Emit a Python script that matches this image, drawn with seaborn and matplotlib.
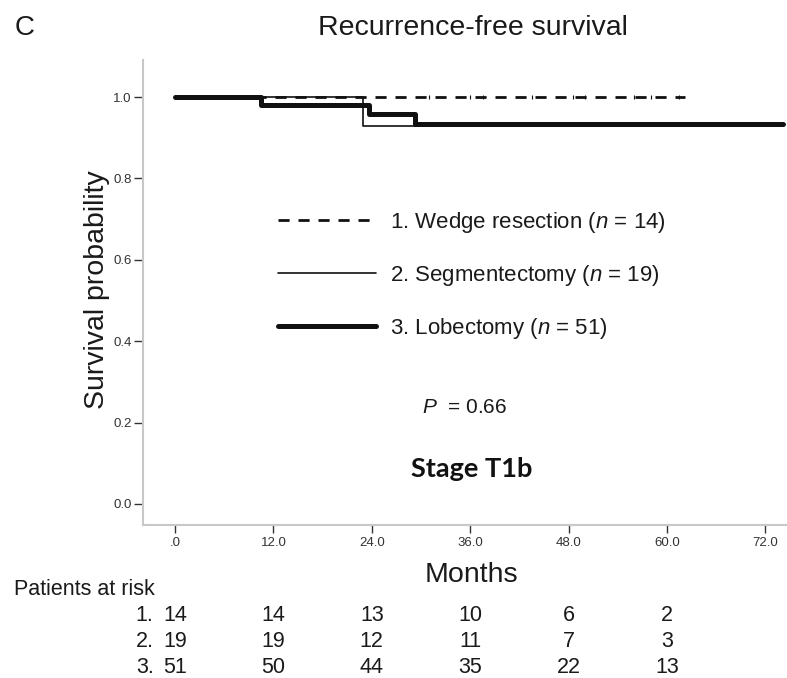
import numpy as np
import pandas as pd
import matplotlib
matplotlib.use("Agg")
import matplotlib.pyplot as plt
import matplotlib.transforms as mtransforms
from matplotlib.lines import Line2D
import seaborn as sns

# Kaplan-Meier step curves (months, survival probability)
wedge_t = [0.0, 62.2]
wedge_s = [1.0, 1.0]
seg_t = [0.0, 22.9, 70.8]
seg_s = [1.0, 0.929, 0.929]
lob_t = [0.0, 10.5, 23.6, 29.3, 74.2]
lob_s = [1.0, 0.980, 0.958, 0.934, 0.934]

# censored observations
wedge_cens = [31.0, 36.0, 37.5, 43.5, 48.5, 50.0, 56.0, 58.0, 61.5]
lob_cens = [34.8, 38.7, 41.6, 50.6, 55.7, 56.9, 67.8]

groups = ["1. Wedge resection ($n$ = 14)",
          "2. Segmentectomy ($n$ = 19)",
          "3. Lobectomy ($n$ = 51)"]

# number at risk
risk_months = [0, 12, 24, 36, 48, 60]
risk_wedge = [14, 14, 13, 10, 6, 2]
risk_seg = [19, 19, 12, 11, 7, 3]
risk_lob = [51, 50, 44, 35, 22, 13]

x_ticks = [0, 12, 24, 36, 48, 60, 72]
x_ticklabels = [".0", "12.0", "24.0", "36.0", "48.0", "60.0", "72.0"]
y_ticks = [0.0, 0.2, 0.4, 0.6, 0.8, 1.0]
y_ticklabels = ["0.0", "0.2", "0.4", "0.6", "0.8", "1.0"]

sns.set_theme(style="white")
plt.rcParams["font.family"] = ["Liberation Sans", "DejaVu Sans"]
plt.rcParams["mathtext.fontset"] = "custom"
plt.rcParams["mathtext.it"] = "Liberation Sans:italic"
plt.rcParams["mathtext.rm"] = "Liberation Sans"

W, H = 787, 678
fig = plt.figure(figsize=(W / 100, H / 100), dpi=100)
ax = fig.add_axes([143 / W, 1 - 525 / H, (786 - 143) / W, (525 - 60) / H])

ink = "#111111"
styles = {
    groups[0]: dict(lw=2.0, ls=(0, (4.0, 3.2))),
    groups[1]: dict(lw=1.2, ls="-"),
    groups[2]: dict(lw=3.6, ls="-"),
}

curves = pd.concat([
    pd.DataFrame({"month": lob_t, "surv": lob_s, "group": groups[2]}),
    pd.DataFrame({"month": seg_t, "surv": seg_s, "group": groups[1]}),
    pd.DataFrame({"month": wedge_t, "surv": wedge_s, "group": groups[0]}),
])

for g, d in curves.groupby("group", sort=False):
    st = styles[g]
    sns.lineplot(data=d, x="month", y="surv", ax=ax, color=ink,
                 linewidth=st["lw"], linestyle=st["ls"],
                 drawstyle="steps-post", estimator=None, sort=False,
                 legend=False)

def level_at(t_list, s_list, t):
    idx = np.searchsorted(t_list, t, side="right") - 1
    return s_list[idx]

cens = pd.DataFrame({
    "month": wedge_cens + lob_cens,
    "surv": [level_at(wedge_t, wedge_s, t) for t in wedge_cens]
            + [level_at(lob_t, lob_s, t) for t in lob_cens],
})
sns.scatterplot(data=cens, x="month", y="surv", ax=ax, marker="|",
                s=12, color=ink, linewidth=0.8, legend=False)

ax.set_xlim(-(175 - 143) / 8.2, (786 - 175) / 8.2)
ax.set_ylim(-(525 - 504) / 407, 1 + (97 - 60) / 407)
ax.set_xticks(x_ticks)
ax.set_xticklabels(x_ticklabels)
ax.set_yticks(y_ticks)
ax.set_yticklabels(y_ticklabels)
ax.set_xlabel("")
ax.set_ylabel("")

for side in ["top", "right"]:
    ax.spines[side].set_visible(False)
for side in ["left", "bottom"]:
    ax.spines[side].set_color("#c8c8c8")
    ax.spines[side].set_linewidth(1.5)

ax.tick_params(axis="x", direction="out", length=5.5, width=1.0, color="#333333",
               pad=3, labelsize=9.5, labelcolor="#333333", bottom=True)
ax.tick_params(axis="y", direction="out", length=6.5, width=1.0, color="#333333",
               pad=1.5, labelsize=9.5, labelcolor="#333333", left=True)

# legend
handles = [Line2D([], [], color=ink, linewidth=styles[g]["lw"],
                  linestyle=styles[g]["ls"]) for g in groups]
leg = ax.legend(handles, groups, loc="upper left",
                bbox_to_anchor=(278 / W, 1 - 210 / H),
                bbox_transform=fig.transFigure, frameon=False,
                fontsize=16, handlelength=4.4, handletextpad=0.63,
                labelspacing=1.26, borderpad=0, borderaxespad=0)
for t in leg.get_texts():
    t.set_color("#1a1a1a")

# annotations
fig.text(15 / W, 1 - 35 / H, "C", fontsize=20, ha="left", va="baseline", color="#1a1a1a")
fig.text(473 / W, 1 - 35 / H, "Recurrence-free survival", fontsize=20.5,
         ha="center", va="baseline", color="#1a1a1a")
fig.text(97 / W, 1 - 290 / H, "Survival probability", fontsize=20.5,
         rotation=90, ha="center", va="center", color="#1a1a1a")
fig.text(471 / W, 1 - 582 / H, "Months", fontsize=20.5, ha="center",
         va="baseline", color="#1a1a1a")
fig.text(422 / W, 1 - 413 / H, "$P$  = 0.66", fontsize=15, ha="left",
         va="baseline", color="#1a1a1a")
fig.text(472 / W, 1 - 477 / H, "Stage T1b", fontsize=19.5, fontweight="bold",
         family=["Lato", "DejaVu Sans"], ha="center", va="baseline", color="#111111")

# risk table
fig.text(14 / W, 1 - 595 / H, "Patients at risk", fontsize=15.5, ha="left",
         va="baseline", color="#1a1a1a")
blend = mtransforms.blended_transform_factory(ax.transData, fig.transFigure)
rows = [("1.", risk_wedge), ("2.", risk_seg), ("3.", risk_lob)]
row_base = [621, 647, 673]
for (lab, vals), yb in zip(rows, row_base):
    ax.text(-2.6, 1 - yb / H, lab, transform=blend, fontsize=15.5,
            ha="right", va="baseline", color="#1a1a1a", clip_on=False)
    for m, v in zip(risk_months, vals):
        ax.text(m, 1 - yb / H, str(v), transform=blend, fontsize=15.5,
                ha="center", va="baseline", color="#1a1a1a", clip_on=False)

fig.savefig("out.png", dpi=100, facecolor="white")
